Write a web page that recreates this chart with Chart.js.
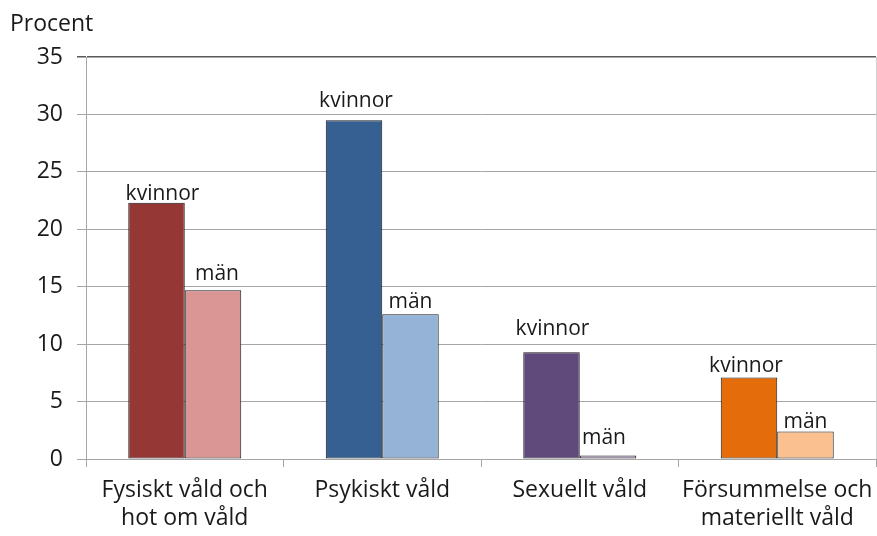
<!DOCTYPE html>
<html><head><meta charset="utf-8">
<script src="https://cdn.jsdelivr.net/npm/chart.js@4"></script>
<style>html,body{margin:0;padding:0;background:#fff}#wrap{width:877px;height:536px}</style>
</head><body><div id="wrap"><canvas id="c" width="877" height="536"></canvas></div>
<script>
const categories = [["Fysiskt våld och","hot om våld"],["Psykiskt våld"],["Sexuellt våld"],["Försummelse och","materiellt våld"]];
const kvinnor = [22.3, 29.5, 9.3, 7.1];
const man = [14.7, 12.6, 0.3, 2.4];
const seriesNames = ["kvinnor","män"];
const kvinnorColors = ["#953735","#366092","#604A7B","#E46C0A"];
const manColors = ["#D99694","#95B3D7","#B3A2C7","#FAC090"];
const yTicks = [0,5,10,15,20,25,30,35];
const FONT = "'Open Sans', 'Noto Sans', sans-serif";

// manual label nudges (as placed in the original), in px: [dx, gap above bar]
const labelNudges = [
  [[6,3],[2,13],[1,17],[-3,5]],
  [[4,10],[0,6],[-4,12],[0,3]]
];

const labelPlugin = {
  id:'labels',
  afterDatasetsDraw(chart){
    const ctx = chart.ctx;
    ctx.save();
    ctx.font = "21px " + FONT;
    ctx.fillStyle = "#1a1a1a";
    ctx.textAlign = "center";
    ctx.textBaseline = "alphabetic";
    chart.data.datasets.forEach((ds,i)=>{
      chart.getDatasetMeta(i).data.forEach((bar,j)=>{
        const n = labelNudges[i][j];
        ctx.fillText(ds.label, bar.x + n[0], bar.y - n[1]);
      });
    });
    // y axis caption
    ctx.textAlign = "left";
    ctx.font = "23px " + FONT;
    ctx.fillText("Procent", 10, 31);
    // right border of plot area
    const a = chart.chartArea;
    ctx.strokeStyle = "#d0d0d0";
    ctx.lineWidth = 1;
    ctx.beginPath(); ctx.moveTo(a.right+0.5, a.top); ctx.lineTo(a.right+0.5, a.bottom); ctx.stroke();
    ctx.restore();
  }
};

new Chart(document.getElementById('c'), {
  type:'bar',
  data:{
    labels: categories,
    datasets:[
      {label:seriesNames[0], data:kvinnor, backgroundColor:kvinnorColors, borderColor:"#1a1a1a", borderWidth:1, borderSkipped:false},
      {label:seriesNames[1], data:man, backgroundColor:manColors, borderColor:"#1a1a1a", borderWidth:1, borderSkipped:false}
    ]
  },
  options:{
    responsive:false, animation:false, devicePixelRatio:1,
    layout:{padding:{top:57,right:1,left:0,bottom:0}},
    plugins:{legend:{display:false}, tooltip:{enabled:false}},
    datasets:{bar:{categoryPercentage:0.572, barPercentage:1}},
    scales:{
      x:{
        grid:{offset:true, drawOnChartArea:false, drawTicks:true, tickLength:8, color:"#a6a6a6"},
        border:{color:"#a6a6a6"},
        ticks:{font:{family:FONT,size:23,lineHeight:1.22}, color:"#1a1a1a", padding:9, maxRotation:0, autoSkip:false},
        afterFit(s){ s.height = 77; s.paddingLeft = 0; s.paddingRight = 0; }
      },
      y:{
        min:0, max:35,
        afterBuildTicks(s){ s.ticks = yTicks.map(v=>({value:v})); },
        grid:{tickLength:9, color:(c)=> c.tick && c.tick.value===35 ? "#595959" : "#a6a6a6", lineWidth:(c)=> c.tick && c.tick.value===35 ? 1.5 : 1},
        border:{color:"#a6a6a6"},
        ticks:{font:{family:FONT,size:23}, color:"#1a1a1a", padding:14},
        afterFit(s){ s.width = 86; }
      }
    }
  },
  plugins:[labelPlugin]
});
</script></body></html>
